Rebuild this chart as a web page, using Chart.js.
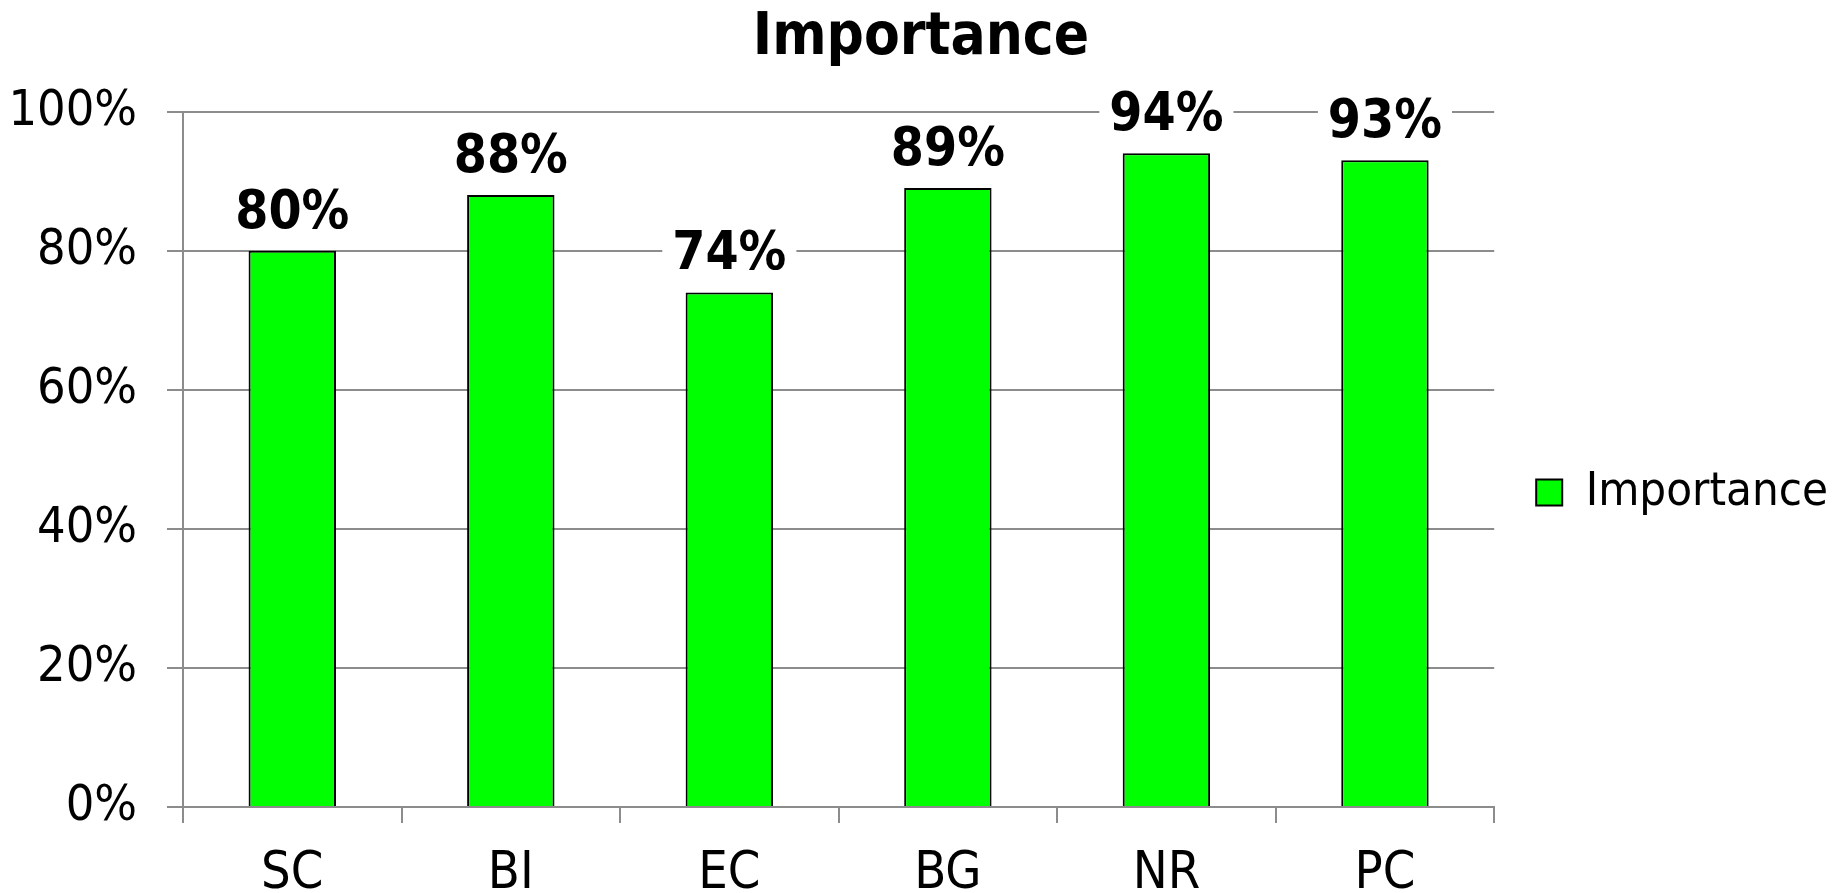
<!DOCTYPE html>
<html>
<head>
<meta charset="utf-8">
<title>Importance</title>
<script src="https://cdn.jsdelivr.net/npm/chart.js@4/dist/chart.umd.min.js"></script>
<style>
  html, body { margin: 0; padding: 0; background: #fff; }
  #wrap { width: 1835px; height: 893px; }
</style>
</head>
<body>
<div id="wrap"><canvas id="chart"></canvas></div>
<script>
// categories and values (fractions of 1)
const categories = ['SC', 'BI', 'EC', 'BG', 'NR', 'PC'];
const importance = [0.80, 0.88, 0.74, 0.89, 0.94, 0.93];
const yTicks = [0, 0.2, 0.4, 0.6, 0.8, 1.0];

const FONT = "'DejaVu Sans Condensed', 'DejaVu Sans', sans-serif";
const pct = v => Math.round(v * 100) + '%';

// bold value labels above each bar, on a white box so gridlines break behind them
const valueLabels = {
  id: 'valueLabels',
  afterDatasetsDraw(chart) {
    const ctx = chart.ctx;
    const meta = chart.getDatasetMeta(0);
    ctx.save();
    ctx.font = 'bold 53px ' + FONT;
    ctx.textAlign = 'center';
    ctx.textBaseline = 'alphabetic';
    meta.data.forEach((bar, i) => {
      const txt = pct(importance[i]);
      const w = ctx.measureText(txt).width;
      const base = bar.y - 23;
      ctx.fillStyle = '#fff';
      ctx.fillRect(bar.x - w / 2 - 10, base - 44, w + 20, 50);
      ctx.fillStyle = '#000';
      ctx.fillText(txt, bar.x, base);
    });
    ctx.restore();
  }
};

new Chart(document.getElementById('chart'), {
  type: 'bar',
  data: {
    labels: categories,
    datasets: [{
      label: 'Importance',
      data: importance,
      backgroundColor: '#00ff00',
      borderColor: '#000',
      borderWidth: 2,
      barPercentage: 0.4,
      categoryPercentage: 1.0
    }]
  },
  options: {
    responsive: true,
    maintainAspectRatio: false,
    animation: false,
    layout: { padding: { left: 4, right: -3, top: 0, bottom: 0 } },
    plugins: {
      title: {
        display: true,
        text: 'Importance',
        color: '#000',
        font: { family: FONT, size: 58, weight: 'bold' },
        padding: { top: 4, bottom: 38 }
      },
      legend: {
        position: 'right',
        // empty title just nudges the single entry below the plot's middle
        title: { display: true, text: ' ', font: { size: 10 }, padding: { top: 40, bottom: 40 } },
        labels: {
          color: '#000',
          font: { family: FONT, size: 47 },
          boxWidth: 26,
          boxHeight: 26,
          padding: 42
        }
      },
      tooltip: { enabled: false }
    },
    scales: {
      x: {
        offset: true,
        afterFit(scale) { scale.height = 86; },
        grid: {
          offset: true,
          drawOnChartArea: false,
          drawTicks: true,
          tickLength: 16,
          color: '#8c8c8c',
          lineWidth: 2
        },
        border: { color: '#8c8c8c', width: 2 },
        ticks: {
          color: '#000',
          font: { family: FONT, size: 52 },
          padding: 20
        }
      },
      y: {
        min: 0,
        max: 1,
        afterFit(scale) { scale.width = 179; },
        afterBuildTicks(scale) {
          scale.ticks = yTicks.map(v => ({ value: v }));
        },
        grid: {
          color: '#8c8c8c',
          lineWidth: 2,
          tickLength: 16
        },
        border: { color: '#8c8c8c', width: 2 },
        ticks: {
          color: '#000',
          font: { family: FONT, size: 50 },
          padding: 30,
          callback: v => pct(v)
        }
      }
    }
  },
  plugins: [valueLabels]
});
</script>
</body>
</html>
